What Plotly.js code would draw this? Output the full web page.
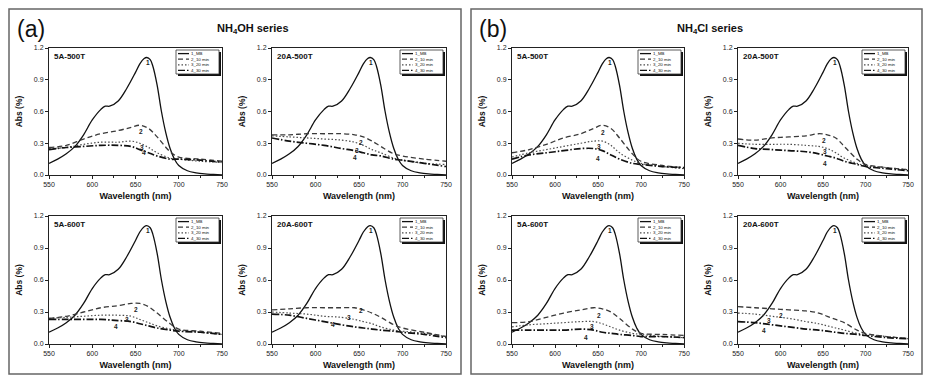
<!DOCTYPE html>
<html><head><meta charset="utf-8">
<script src="https://cdn.plot.ly/plotly-3.0.1.min.js"></script>
<style>html,body{margin:0;padding:0;background:#fff;}#chart{width:930px;height:385px;}</style>
</head><body><div id="chart"></div>
<script>
// ---- data ----
const wlMB = [550,560,570,580,590,600,610,615,620,630,640,650,655,660,663,667,670,675,680,685,690,695,700,710,720,730,740,750];
const absMB = [0.11,0.15,0.20,0.27,0.38,0.52,0.62,0.65,0.65,0.70,0.82,0.97,1.05,1.10,1.11,1.09,1.03,0.85,0.60,0.40,0.25,0.15,0.09,0.04,0.02,0.01,0.005,0.0];
const wlDeg = [550,570,590,610,630,645,655,665,675,690,700,725,750];

const seriesNames = ['1_MB','2_10 min','3_20 min','4_30 min'];
const panelTitles = ['NH<sub>4</sub>OH series','NH<sub>4</sub>Cl series'];
const panelLetters = ['(a)','(b)'];
const sampleNames = ['5A-500T','20A-500T','5A-600T','20A-600T','5A-500T','20A-500T','5A-600T','20A-600T'];

// NH4OH series
const a1_10 = [0.26,0.28,0.34,0.39,0.42,0.45,0.47,0.44,0.36,0.22,0.17,0.15,0.13];
const a1_20 = [0.25,0.26,0.29,0.31,0.31,0.32,0.30,0.26,0.21,0.16,0.15,0.13,0.12];
const a1_30 = [0.24,0.26,0.27,0.28,0.28,0.27,0.24,0.21,0.18,0.15,0.15,0.14,0.12];
const a2_10 = [0.38,0.38,0.39,0.39,0.39,0.38,0.36,0.32,0.27,0.20,0.18,0.15,0.13];
const a2_20 = [0.37,0.36,0.35,0.34,0.33,0.31,0.28,0.24,0.21,0.16,0.14,0.11,0.10];
const a2_30 = [0.35,0.32,0.30,0.28,0.25,0.23,0.21,0.19,0.18,0.15,0.14,0.11,0.08];
const a3_10 = [0.24,0.26,0.30,0.34,0.36,0.38,0.38,0.35,0.29,0.19,0.14,0.12,0.10];
const a3_20 = [0.24,0.25,0.26,0.27,0.27,0.26,0.23,0.20,0.17,0.14,0.13,0.11,0.09];
const a3_30 = [0.23,0.23,0.23,0.23,0.22,0.21,0.19,0.17,0.15,0.13,0.12,0.11,0.09];
const a4_10 = [0.32,0.33,0.34,0.34,0.34,0.34,0.32,0.29,0.25,0.18,0.15,0.11,0.07];
const a4_20 = [0.30,0.29,0.28,0.26,0.25,0.23,0.21,0.19,0.16,0.13,0.12,0.10,0.07];
const a4_30 = [0.28,0.27,0.24,0.21,0.18,0.16,0.15,0.14,0.13,0.12,0.11,0.09,0.06];
// NH4Cl series
const b1_10 = [0.21,0.24,0.29,0.35,0.39,0.44,0.47,0.44,0.35,0.20,0.13,0.09,0.07];
const b1_20 = [0.17,0.21,0.24,0.27,0.30,0.32,0.32,0.28,0.21,0.14,0.11,0.08,0.06];
const b1_30 = [0.15,0.19,0.21,0.23,0.25,0.25,0.23,0.19,0.15,0.11,0.10,0.08,0.07];
const b2_10 = [0.34,0.33,0.35,0.36,0.37,0.39,0.38,0.35,0.27,0.15,0.10,0.07,0.05];
const b2_20 = [0.30,0.29,0.29,0.29,0.28,0.27,0.25,0.21,0.16,0.11,0.09,0.07,0.05];
const b2_30 = [0.28,0.25,0.24,0.23,0.22,0.20,0.18,0.16,0.13,0.10,0.08,0.06,0.04];
const b3_10 = [0.20,0.21,0.25,0.29,0.32,0.34,0.33,0.30,0.24,0.14,0.10,0.09,0.08];
const b3_20 = [0.16,0.18,0.19,0.20,0.21,0.21,0.19,0.16,0.13,0.10,0.09,0.07,0.06];
const b3_30 = [0.13,0.13,0.13,0.13,0.14,0.13,0.11,0.10,0.09,0.08,0.07,0.07,0.06];
const b4_10 = [0.35,0.34,0.33,0.32,0.31,0.29,0.26,0.23,0.20,0.13,0.10,0.07,0.05];
const b4_20 = [0.29,0.28,0.26,0.24,0.21,0.19,0.17,0.15,0.13,0.10,0.09,0.07,0.05];
const b4_30 = [0.21,0.20,0.18,0.16,0.14,0.13,0.12,0.11,0.10,0.09,0.08,0.06,0.05];

// curve number labels [x, y] for curves 1..4
const lab_a1 = [[664,1.06],[656,0.41],[657,0.26],[660,0.21]];
const lab_a2 = [[664,1.06],[652,0.31],[648,0.23],[645,0.17]];
const lab_a3 = [[664,1.06],[651,0.32],[640,0.23],[627,0.16]];
const lab_a4 = [[664,1.06],[652,0.31],[638,0.25],[620,0.18]];
const lab_b1 = [[664,1.06],[656,0.40],[651,0.27],[650,0.16]];
const lab_b2 = [[664,1.06],[651,0.33],[652,0.22],[652,0.11]];
const lab_b3 = [[664,1.06],[651,0.27],[643,0.16],[636,0.06]];
const lab_b4 = [[664,1.06],[601,0.27],[587,0.22],[581,0.13]];

const subplots = [
  [a1_10,a1_20,a1_30,lab_a1],[a2_10,a2_20,a2_30,lab_a2],
  [a3_10,a3_20,a3_30,lab_a3],[a4_10,a4_20,a4_30,lab_a4],
  [b1_10,b1_20,b1_30,lab_b1],[b2_10,b2_20,b2_30,lab_b2],
  [b3_10,b3_20,b3_30,lab_b3],[b4_10,b4_20,b4_30,lab_b4]
];

// ---- layout geometry (pixels -> paper) ----
const W = 930, H = 385;
const colPx = [[49,222],[272,446],[512,684],[738,908]];
const rowPx = [[48,175],[216,344]];
const px = v => v / W, py = v => 1 - v / H;
const FONT = 'Liberation Sans, Arial, sans-serif';

const lineStyles = [
  {color:'#111', width:1.3, dash:'solid'},
  {color:'#3a3a3a', width:1.3, dash:'5px,3px'},
  {color:'#4a4a4a', width:1.2, dash:'1.5px,2px'},
  {color:'#111', width:1.7, dash:'7px,2px,1.5px,2px'}
];

const traces = [];
const annotations = [];
const shapes = [];
const layout = {
  width: W, height: H, margin:{l:0,r:0,t:0,b:0},
  paper_bgcolor:'#fff', plot_bgcolor:'#fff', showlegend:false,
  font:{family:FONT, color:'#111'}
};

subplots.forEach((sp, i) => {
  const panel = i < 4 ? 0 : 1;
  const k = i % 4;
  const col = panel * 2 + (k % 2);
  const row = Math.floor(k / 2);
  const n = i + 1;
  const xa = 'x' + (n === 1 ? '' : n), ya = 'y' + (n === 1 ? '' : n);
  const xk = 'xaxis' + (n === 1 ? '' : n), yk = 'yaxis' + (n === 1 ? '' : n);
  const ys = [absMB, sp[0], sp[1], sp[2]];
  const xs = [wlMB, wlDeg, wlDeg, wlDeg];
  ys.forEach((yv, s) => {
    traces.push({
      type:'scatter', mode:'lines', x:xs[s], y:yv, xaxis:xa, yaxis:ya,
      name:seriesNames[s], line:Object.assign({shape:'spline', smoothing:1}, lineStyles[s]),
      hoverinfo:'skip'
    });
  });
  layout[xk] = {
    domain:[px(colPx[col][0]), px(colPx[col][1])], anchor:ya,
    range:[550,750], tickvals:[550,600,650,700,750],
    ticks:'outside', ticklen:3, tickwidth:1, tickcolor:'#222',
    minor:{ticks:'outside', ticklen:2, tickwidth:1, tickcolor:'#222', dtick:25, tick0:550},
    showline:true, linecolor:'#222', linewidth:1, mirror:true,
    showgrid:false, zeroline:false,
    tickfont:{size:7, color:'#222', family:FONT},
    title:{text:'<b>Wavelength (nm)</b>', font:{size:9, family:FONT, color:'#111'}, standoff:5}
  };
  layout[yk] = {
    domain:[py(rowPx[row][1]), py(rowPx[row][0])], anchor:xa,
    range:[0,1.2], tickvals:[0,0.3,0.6,0.9,1.2], tickformat:'.1f',
    ticks:'outside', ticklen:3, tickwidth:1, tickcolor:'#222',
    showline:true, linecolor:'#222', linewidth:1, mirror:true,
    showgrid:false, zeroline:false,
    tickfont:{size:7, color:'#222', family:FONT},
    title:{text:'<b>Abs (%)</b>', font:{size:8.5, family:FONT, color:'#111'}, standoff:9}
  };
  // sample name
  annotations.push({xref:xa+' domain', yref:ya+' domain', x:0.02, y:0.985, xanchor:'left', yanchor:'top',
    text:'<b>'+sampleNames[i]+'</b>', showarrow:false, font:{size:8, family:FONT, color:'#111'}});
  // curve labels
  sp[3].forEach((p, s) => {
    annotations.push({xref:xa, yref:ya, x:p[0], y:p[1], text:'<b>'+(s+1)+'</b>', showarrow:false,
      xanchor:'center', yanchor:'middle', font:{size:6.5, family:FONT, color:'#222'}});
  });
  // legend box: shadow + frame (pixel-sized shapes anchored at the plot's top-right corner)
  const dx = xa + ' domain', dy = ya + ' domain';
  const boxW = 43, boxH = 24, off = 3, step = 5.6;
  shapes.push({type:'rect', xref:dx, yref:dy, xsizemode:'pixel', ysizemode:'pixel', xanchor:1, yanchor:1,
    x0:-off-boxW+2, x1:-off+2, y0:-2-2, y1:-2-boxH-2, line:{width:0}, fillcolor:'#111'});
  shapes.push({type:'rect', xref:dx, yref:dy, xsizemode:'pixel', ysizemode:'pixel', xanchor:1, yanchor:1,
    x0:-off-boxW, x1:-off, y0:-2, y1:-2-boxH, line:{width:0.8, color:'#333'}, fillcolor:'#fff'});
  for (let s = 0; s < 4; s++) {
    const yy = -2 - 3.6 - step * s;
    shapes.push({type:'line', xref:dx, yref:dy, xsizemode:'pixel', ysizemode:'pixel', xanchor:1, yanchor:1,
      x0:-off-boxW+2, x1:-off-boxW+13, y0:yy, y1:yy,
      line:{color:lineStyles[s].color, width:Math.min(lineStyles[s].width, 1.3), dash:lineStyles[s].dash}});
  }
  annotations.push({xref:dx, yref:dy, x:1, y:1, xanchor:'left', yanchor:'top',
    xshift:-off-boxW+14, yshift:-1.5, text:seriesNames.join('<br>'), showarrow:false, align:'left',
    borderpad:0, font:{size:4.4, family:FONT, color:'#111'}});
});

// panel letters, titles and frames
const frames = [[9,461],[471,922]];
const titleCx = [253, 710];
[0,1].forEach(p => {
  shapes.push({type:'rect', xref:'paper', yref:'paper', x0:px(frames[p][0]), x1:px(frames[p][1]),
    y0:py(374), y1:py(9), line:{color:'#666', width:1.5}, fillcolor:'rgba(0,0,0,0)'});
  annotations.push({xref:'paper', yref:'paper', x:px(frames[p][0]+6), y:py(29), xanchor:'left', yanchor:'middle',
    text:panelLetters[p], showarrow:false, font:{size:23, family:FONT, color:'#111'}});
  annotations.push({xref:'paper', yref:'paper', x:px(titleCx[p]), y:py(29), xanchor:'center', yanchor:'middle',
    text:'<b>'+panelTitles[p]+'</b>', showarrow:false, font:{size:11, family:FONT, color:'#111'}});
});

layout.annotations = annotations;
layout.shapes = shapes;
Plotly.newPlot('chart', traces, layout, {staticPlot:true, displayModeBar:false});
</script>
</body></html>
